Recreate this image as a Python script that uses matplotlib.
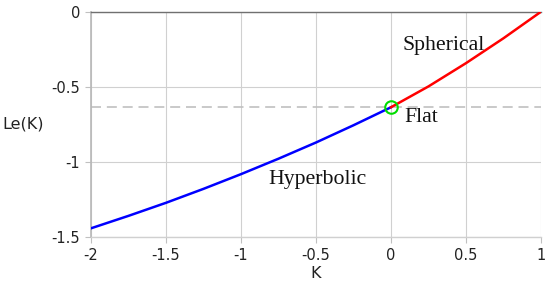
import matplotlib
matplotlib.use("Agg")
import matplotlib.pyplot as plt

# Data
k_hyper = [-2.0, -1.75, -1.5, -1.25, -1.0, -0.75, -0.5, -0.25, 0.0]
le_hyper = [-1.444, -1.361, -1.274, -1.181, -1.083, -0.980, -0.872, -0.757, -0.637]
k_sph = [0.0, 0.25, 0.5, 0.75, 1.0]
le_sph = [-0.637, -0.498, -0.343, -0.177, 0.0]
flat_k = 0.0
flat_le = -0.637
x_ticks = [-2, -1.5, -1, -0.5, 0, 0.5, 1]
y_ticks = [-1.5, -1, -0.5, 0]
x_ticklabels = ["-2", "-1.5", "-1", "-0.5", "0", "0.5", "1"]
y_ticklabels = ["-1.5", "-1", "-0.5", "0"]

fig = plt.figure(figsize=(5.45, 2.84), dpi=100)
ax = fig.add_axes([91/545, (284-236.7)/284, 450/545, 225/284])

ax.set_xlim(-2, 1)
ax.set_ylim(-1.5, 0)
ax.set_xticks(x_ticks)
ax.set_xticklabels(x_ticklabels)
ax.set_yticks(y_ticks)
ax.set_yticklabels(y_ticklabels)

ax.grid(True, color="#d0d0d0", linewidth=0.8)
ax.set_axisbelow(True)

ax.spines["right"].set_visible(False)
ax.spines["top"].set_color("#707070")
ax.spines["top"].set_linewidth(1.0)
ax.spines["left"].set_color("#b8b8b8")
ax.spines["left"].set_linewidth(1.2)
ax.spines["bottom"].set_color("#d0d0d0")
ax.spines["bottom"].set_linewidth(1.0)

ax.tick_params(axis="both", colors="#c0c0c0", labelcolor="#222222", labelsize=10.5, length=4, pad=4)

ax.axhline(flat_le, color="#c0c0c0", linestyle=(0, (6, 3.5)), linewidth=1.2, zorder=1)

ax.plot(k_hyper, le_hyper, color="#0000ff", linewidth=1.8, zorder=3)
ax.plot(k_sph, le_sph, color="#ff0000", linewidth=1.8, zorder=3)
ax.plot([flat_k], [flat_le], marker="o", markersize=9, markerfacecolor="none",
        markeredgecolor="#00dd00", markeredgewidth=1.5, zorder=4, clip_on=False)

serif = ["Liberation Serif", "DejaVu Serif"]
ax.text(0.08, -0.255, "Spherical", family=serif, fontsize=15.7, ha="left", va="baseline", color="#111111")
ax.text(0.087, -0.733, "Flat", family=serif, fontsize=15.7, ha="left", va="baseline", color="#111111")
ax.text(-0.82, -1.151, "Hyperbolic", family=serif, fontsize=15.7, ha="left", va="baseline", color="#111111")

ax.set_xlabel("K", fontsize=11.5, color="#222222", labelpad=2)
ax.set_ylabel("Le(K)", fontsize=11.5, color="#222222", rotation=0, ha="left", va="center")
ax.yaxis.set_label_coords(-89/450, 0.5)

fig.savefig("out.png", dpi=100)
